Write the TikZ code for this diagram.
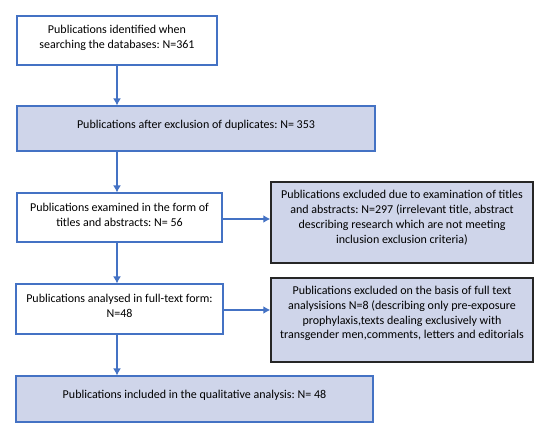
\documentclass[tikz,border=0pt]{standalone}
\usepackage{fontspec}
\setmainfont{Carlito}
\usetikzlibrary{arrows.meta}

\definecolor{boxblue}{HTML}{4472C4}
\definecolor{boxfill}{HTML}{CFD5EA}
\definecolor{boxdark}{HTML}{262626}
\newcommand{\flowfont}{\fontsize{12bp}{14.8bp}\selectfont\frenchspacing}

\tikzset{
	bluebox/.style={draw=boxblue, line width=1.1bp, inner sep=0pt},
	fillbox/.style={bluebox, fill=boxfill},
	exclbox/.style={draw=boxdark, line width=1.5bp, fill=boxfill, inner sep=0pt},
	flowtext/.style={align=center, inner sep=0pt, font=\flowfont},
	flow/.style={draw=boxblue, line width=2.2bp, -{Latex[length=7bp,width=8bp]}}
}

\begin{document}
\begin{tikzpicture}[x=1bp, y=-1bp]
	\useasboundingbox (0,0) rectangle (550,434);
	% main column
	\node [bluebox, minimum width=200bp, minimum height=49bp] (ident) at (117,40.5) {};
	\node [fillbox, minimum width=358bp, minimum height=45bp] (dup) at (196,128.5) {};
	\node [bluebox, minimum width=205bp, minimum height=49bp] (exam) at (119.5,217.5) {};
	\node [bluebox, minimum width=207bp, minimum height=50bp] (anal) at (119.5,309) {};
	\node [fillbox, minimum width=357bp, minimum height=46bp] (incl) at (194.5,399) {};
	% excluded
	\node [exclbox, minimum width=262bp, minimum height=81bp] (excla) at (402,222.5) {};
	\node [exclbox, minimum width=262bp, minimum height=84bp] (exclb) at (402,320) {};
	% texts
	\node [flowtext] (identtxt) at ([yshift=3bp]ident.center) {Publications identified when\\searching the databases: N=361};
	\node [flowtext] (duptxt) at ([yshift=3bp]dup.center) {Publications after exclusion of duplicates: N= 353};
	\node [flowtext] (examtxt) at ([yshift=3bp]exam.center) {Publications examined in the form of\\titles and abstracts: N= 56};
	\node [flowtext] (analtxt) at ([yshift=3bp]anal.center) {Publications analysed in full-text form:\\N=48};
	\node [flowtext] (incltxt) at ([yshift=3.5bp]incl.center) {Publications included in the qualitative analysis: N= 48};
	\node [flowtext] (exclatxt) at ([yshift=5bp]excla.center) {Publications excluded due to examination of titles\\and abstracts: N=297 (irrelevant title, abstract\\describing research which are not meeting\\inclusion exclusion criteria)};
	\node [flowtext] (exclbtxt) at ([yshift=6.5bp]exclb.center) {Publications excluded on the basis of full text\\analysisions N=8 (describing only pre-exposure\\prophylaxis,texts dealing exclusively with\\transgender men,comments, letters and editorials};
	% arrows
	\draw [flow] (ident.south) -- (ident.south |- dup.north);
	\draw [flow] (ident.south |- dup.south) -- (ident.south |- exam.north);
	\draw [flow] (ident.south |- exam.south) -- (ident.south |- anal.north);
	\draw [flow] (ident.south |- anal.south) -- (ident.south |- incl.north);
	\draw [flow] ([yshift=-1.5bp]exam.east) -- ([yshift=-1.5bp]exam.east -| excla.west);
	\draw [flow] ([yshift=-1bp]anal.east) -- ([yshift=-1bp]anal.east -| exclb.west);
\end{tikzpicture}
\end{document}
